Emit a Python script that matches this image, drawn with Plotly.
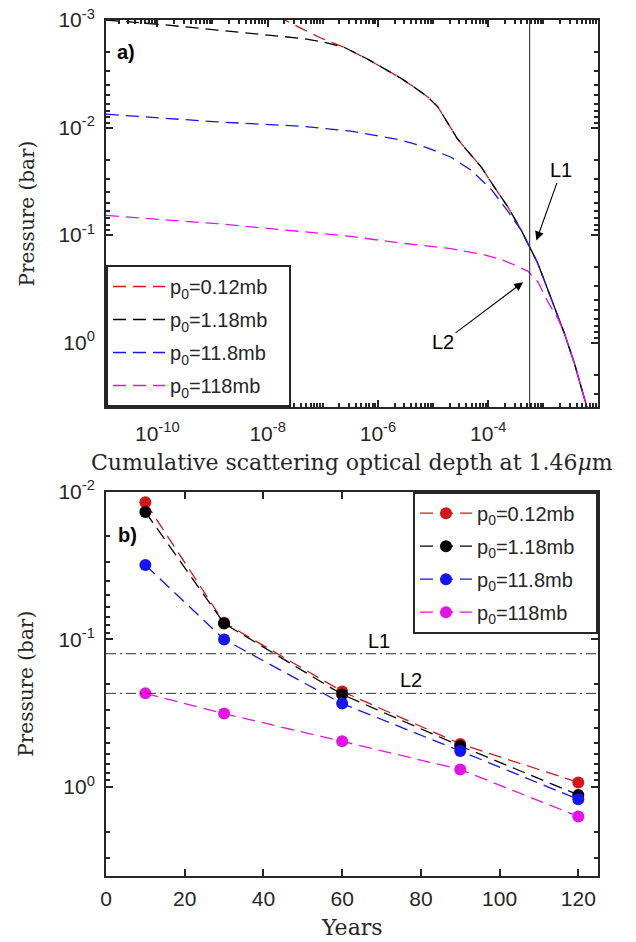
import math
import plotly.graph_objects as go

# ---------------- Panel a) : pressure vs cumulative optical depth ----------------
tau_red = [1.17e-11, 1.0e-9, 5.0e-9, 1.74e-8, 3.98e-8, 9.2e-8, 2.41e-7, 6.5e-7, 1.29e-6, 2.63e-6,
           4.52e-6, 8.0e-6, 1.22e-5, 1.585e-5, 2.12e-5, 2.73e-5, 3.66e-5, 7.46e-5, 1.29e-4,
           2.28e-4, 3.98e-4, 5.64e-4, 7.78e-4, 1.04e-3, 1.58e-3, 2.41e-3, 3.66e-3, 6.05e-3, 6.4e-3]
p_red = [1.3e-4, 2.5e-4, 5.2e-4, 9.6e-4, 1.19e-3, 1.47e-3, 1.79e-3, 2.31e-3, 2.83e-3, 3.49e-3,
         4.21e-3, 5.19e-3, 6.43e-3, 8.02e-3, 1.026e-2, 1.26e-2, 1.52e-2, 2.33e-2, 3.58e-2,
         5.50e-2, 9.06e-2, 0.130, 0.180, 0.265, 0.473, 0.826, 1.57, 3.87, 4.3]

tau_black = [1.17e-11, 1.14e-10, 1.22e-9, 9.9e-9, 3.98e-8, 9.2e-8, 2.41e-7, 6.5e-7, 1.29e-6,
             2.63e-6, 4.52e-6, 8.0e-6, 1.22e-5, 1.585e-5, 2.12e-5, 2.73e-5, 3.66e-5, 7.46e-5,
             1.29e-4, 2.28e-4, 3.98e-4, 5.64e-4, 7.78e-4, 1.04e-3, 1.58e-3, 2.41e-3, 3.66e-3,
             6.05e-3, 6.4e-3]
p_black = [1.0e-3, 1.10e-3, 1.24e-3, 1.38e-3, 1.48e-3, 1.585e-3, 1.79e-3, 2.31e-3, 2.83e-3,
           3.49e-3, 4.21e-3, 5.19e-3, 6.43e-3, 8.02e-3, 1.026e-2, 1.26e-2, 1.52e-2, 2.33e-2,
           3.58e-2, 5.50e-2, 9.06e-2, 0.130, 0.180, 0.265, 0.473, 0.826, 1.57,
           3.87, 4.3]

tau_blue = [1.17e-11, 1.22e-9, 3.98e-8, 3.24e-7, 2.63e-6, 7.46e-6, 2.12e-5, 4.91e-5, 1.135e-4,
            2.28e-4, 3.98e-4, 5.64e-4, 7.78e-4, 1.04e-3, 1.58e-3, 2.41e-3, 3.66e-3, 6.05e-3, 6.4e-3]
p_blue = [7.52e-3, 8.87e-3, 9.73e-3, 1.08e-2, 1.31e-2, 1.53e-2, 1.89e-2, 2.50e-2, 3.76e-2,
          6.03e-2, 9.06e-2, 0.130, 0.180, 0.265, 0.473, 0.826, 1.57, 3.87, 4.3]

tau_mag = [1.17e-11, 1.22e-9, 3.98e-8, 3.24e-7, 2.63e-6, 2.12e-5, 8.57e-5, 1.72e-4, 3.0e-4,
           5.27e-4, 8.0e-4, 1.22e-3, 1.85e-3, 2.41e-3, 3.66e-3, 6.05e-3, 6.4e-3]
p_mag = [6.56e-2, 7.85e-2, 9.27e-2, 0.103, 0.119, 0.134, 0.153, 0.169, 0.190,
         0.218, 0.275, 0.422, 0.603, 0.826, 1.57, 3.87, 4.3]

tau_L = 5.64e-4          # vertical reference line in panel a)

# ---------------- Panel b) : pressure vs years ----------------
years = [10, 30, 60, 90, 120]
pb_red = [0.0118, 0.077, 0.225, 0.51, 0.93]
pb_black = [0.0137, 0.078, 0.236, 0.527, 1.13]
pb_blue = [0.0314, 0.100, 0.272, 0.57, 1.21]
pb_mag = [0.232, 0.318, 0.49, 0.76, 1.58]

L1_pressure = 0.125
L2_pressure = 0.232

names = ["p<sub>0</sub>=0.12mb", "p<sub>0</sub>=1.18mb", "p<sub>0</sub>=11.8mb", "p<sub>0</sub>=118mb"]
colors = ["#D01818", "#000000", "#1414F5", "#E214E6"]

AX = "#262626"
SANS = "Liberation Sans, Arial, sans-serif"
SERIF = "DejaVu Serif, serif"
DASH = "13px,7px"
PAD = "&nbsp;&nbsp;&nbsp;"

fig = go.Figure()

for i, (nm, tx, py, col) in enumerate(zip(names, [tau_red, tau_black, tau_blue, tau_mag],
                                          [p_red, p_black, p_blue, p_mag], colors)):
    fig.add_trace(go.Scatter(x=tx, y=py, mode="lines", name=nm + PAD, legendgroup="a%d" % i,
                             line=dict(color=col, width=1.3, dash=DASH),
                             xaxis="x", yaxis="y", legend="legend"))

fig.add_trace(go.Scatter(x=[tau_L, tau_L], y=[1e-4, 10], mode="lines",
                         line=dict(color="#222222", width=1), showlegend=False,
                         xaxis="x", yaxis="y"))

for i, (nm, py, col) in enumerate(zip(names, [pb_red, pb_black, pb_blue, pb_mag], colors)):
    fig.add_trace(go.Scatter(x=years, y=py, mode="lines+markers", name=nm + PAD, legendgroup="b%d" % i,
                             line=dict(color=col, width=1.3, dash=DASH),
                             marker=dict(color=col, size=12),
                             xaxis="x2", yaxis="y2", legend="legend2"))

for lvl in [L1_pressure, L2_pressure]:
    fig.add_trace(go.Scatter(x=[0, 125], y=[lvl, lvl], mode="lines",
                             line=dict(color="#333333", width=1, dash="10px,4px,2px,4px"),
                             showlegend=False, xaxis="x2", yaxis="y2"))

# minor tick positions for log axes
minor_x = [k * 10.0 ** n for n in range(-12, -1) for k in range(1, 10)]
minor_y = [k * 10.0 ** n for n in range(-4, 1) for k in range(1, 10)]


def sup(e):
    return "10<sup>%d</sup>" % e


common = dict(showline=True, linecolor=AX, linewidth=2, mirror="allticks",
              ticks="inside", ticklen=7, tickwidth=2, tickcolor=AX,
              showgrid=False, zeroline=False,
              tickfont=dict(family=SANS, size=21, color=AX))
minor_common = dict(ticks="inside", ticklen=4, tickwidth=1.5, tickcolor=AX, showgrid=False)

xd = [106 / 636, 598 / 636]
leg_font = dict(family=SANS, size=20, color=AX)

fig.update_layout(
    width=636, height=942, margin=dict(l=0, r=0, t=0, b=0, autoexpand=False),
    paper_bgcolor="white", plot_bgcolor="white",
    xaxis=dict(type="log", domain=xd, anchor="y", range=[-10.93, -2.01],
               tickmode="array", tickvals=[1e-10, 1e-8, 1e-6, 1e-4],
               ticktext=[sup(-10), sup(-8), sup(-6), sup(-4)],
               minor=dict(tickmode="array", tickvals=minor_x, **minor_common),
               ticklabelstandoff=7, **common),
    yaxis=dict(type="log", domain=[1 - 407 / 942, 1 - 20 / 942], anchor="x", range=[0.6, -3],
               tickmode="array", tickvals=[1e-3, 1e-2, 1e-1, 1e0],
               ticktext=[sup(-3), sup(-2), sup(-1), sup(0)],
               minor=dict(tickmode="array", tickvals=minor_y, **minor_common),
               ticklabelstandoff=5, **common),
    xaxis2=dict(domain=xd, anchor="y2", range=[0, 125], tickmode="array",
                tickvals=[0, 20, 40, 60, 80, 100, 120], ticklabelstandoff=3, **common),
    yaxis2=dict(type="log", domain=[1 - 875.7 / 942, 1 - 491.7 / 942], anchor="x2", range=[0.6, -2],
                tickmode="array", tickvals=[1e-2, 1e-1, 1e0],
                ticktext=[sup(-2), sup(-1), sup(0)],
                minor=dict(tickmode="array", tickvals=minor_y, **minor_common),
                ticklabelstandoff=5, **common),
    legend=dict(x=106 / 636, y=1 - 407 / 942, xanchor="left", yanchor="bottom",
                bordercolor=AX, borderwidth=2, bgcolor="white", itemwidth=52,
                tracegroupgap=4, font=leg_font),
    legend2=dict(x=598 / 636, y=1 - 491.7 / 942, xanchor="right", yanchor="top",
                 bordercolor=AX, borderwidth=2, bgcolor="white", itemwidth=52,
                 tracegroupgap=4, font=leg_font),
    showlegend=True,
)

ann = []
# axis titles
ann.append(dict(text="Cumulative scattering optical depth at 1.46<i>μ</i>m", xref="paper", yref="paper",
                x=352 / 636, y=1 - 462 / 942, showarrow=False, xanchor="center", yanchor="middle",
                font=dict(family=SERIF, size=22, color=AX)))
ann.append(dict(text="Years", xref="paper", yref="paper", x=352 / 636, y=1 - 927 / 942,
                showarrow=False, xanchor="center", yanchor="middle",
                font=dict(family=SERIF, size=22, color=AX)))
for yc in [213.5, 683.7]:
    ann.append(dict(text="Pressure (bar)", xref="paper", yref="paper", x=26 / 636, y=1 - yc / 942,
                    showarrow=False, textangle=-90, xanchor="center", yanchor="middle",
                    font=dict(family=SERIF, size=20, color=AX)))
# panel labels
ann.append(dict(text="<b>a)</b>", xref="paper", yref="paper", x=126 / 636, y=1 - 52 / 942,
                showarrow=False, xanchor="center", yanchor="middle",
                font=dict(family=SANS, size=20, color="black")))
ann.append(dict(text="<b>b)</b>", xref="paper", yref="paper", x=127 / 636, y=1 - 535 / 942,
                showarrow=False, xanchor="center", yanchor="middle",
                font=dict(family=SANS, size=20, color="black")))
# arrows in panel a)
ann.append(dict(text="L1", xref="x", yref="y", x=-3.127, y=-0.950, ax=25, ay=-70,
                showarrow=True, arrowhead=2, arrowsize=1.6, arrowwidth=1.1, arrowcolor="black",
                font=dict(family=SANS, size=20, color="black")))
ann.append(dict(text="L2", xref="x", yref="y", x=-3.369, y=-0.561, ax=-80, ay=60,
                showarrow=True, arrowhead=2, arrowsize=1.6, arrowwidth=1.1, arrowcolor="black",
                font=dict(family=SANS, size=20, color="black")))
# labels of horizontal lines in panel b)
ann.append(dict(text="L1", xref="x2", yref="y2", x=69.4, y=math.log10(L1_pressure),
                showarrow=False, xanchor="center", yanchor="bottom",
                font=dict(family=SANS, size=20, color="black")))
ann.append(dict(text="L2", xref="x2", yref="y2", x=77.6, y=math.log10(L2_pressure),
                showarrow=False, xanchor="center", yanchor="bottom",
                font=dict(family=SANS, size=20, color="black")))

fig.update_layout(annotations=ann)
fig.write_html("out.html", config={"displayModeBar": False},
               post_script="document.body.style.margin='0';document.body.style.overflow='hidden';")
